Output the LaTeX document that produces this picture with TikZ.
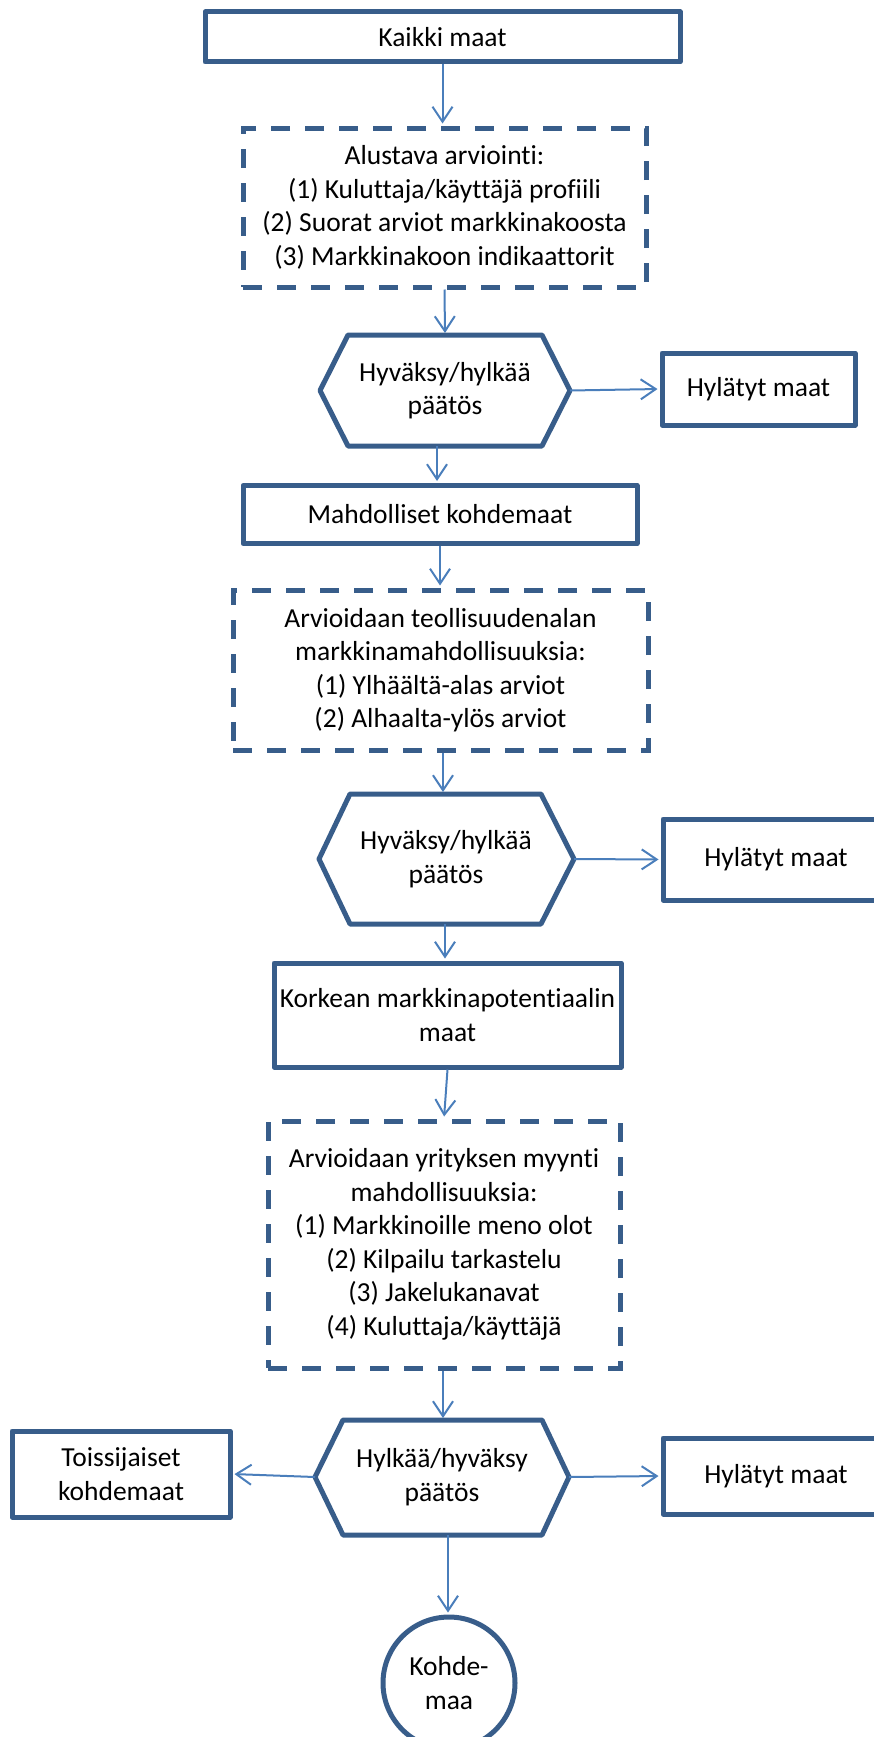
\documentclass[tikz,border=0pt]{standalone}
\usepackage{fontspec}
\setmainfont{Carlito}[Ligatures={NoCommon,NoRequired,NoContextual}]
\usetikzlibrary{arrows.meta}
\definecolor{boxblue}{HTML}{385D8A}
\definecolor{arrowblue}{HTML}{4A7EBB}
\begin{document}
\begin{tikzpicture}[x=1pt,y=-1pt,
  every node/.style={font=\fontsize{27.5}{33.5}\selectfont, align=center, inner sep=0pt},
  solidbox/.style={draw=boxblue, line width=5pt, line join=round, rectangle, fill=white},
  dashbox/.style={draw=boxblue, line width=5pt, dash pattern=on 19pt off 15pt, rectangle},
  hexline/.style={draw=boxblue, line width=5pt, line join=round},
  conn/.style={draw=arrowblue, line width=2pt, -{Straight Barb[length=15pt,width=20pt,line width=2pt]}, shorten >=2pt}
]
\useasboundingbox (0,0) rectangle (874,1737);
\clip (0,0) rectangle (874,1737);

% boxes
\node[solidbox, minimum width=475, minimum height=50] (kaikki) at (442.5,37) {Kaikki maat};
\node[dashbox, minimum width=403, minimum height=159] (d1) at (444.5,207.5)
  {Alustava arviointi:\\(1) Kuluttaja/käyttäjä profiili\\(2) Suorat arviot markkinakoosta\\(3) Markkinakoon indikaattorit};

% hexagon 1
\draw[hexline] (320,390.5) -- (348,335) -- (542,335) -- (570,390.5) -- (542,446) -- (348,446) -- cycle;
\node (h1) at (445,390.5) {Hyväksy/hylkää\\päätös};
\coordinate (h1N) at (445,335);
\coordinate (h1S) at (437,446);
\coordinate (h1E) at (570,390.5);

\node[solidbox, minimum width=193, minimum height=72] (hyl1) at (758.5,389) {Hylätyt maat};
\node[solidbox, minimum width=394, minimum height=58] (mahd) at (440,514.5) {Mahdolliset kohdemaat};
\node[dashbox, minimum width=415, minimum height=160] (d2) at (440.5,670)
  {Arvioidaan teollisuudenalan\\markkinamahdollisuuksia:\\(1) Ylhäältä-alas arviot\\(2) Alhaalta-ylös arviot};

% hexagon 2
\draw[hexline] (319,859) -- (350,794) -- (541,794) -- (574,859) -- (541,924) -- (350,924) -- cycle;
\node (h2) at (446,859) {Hyväksy/hylkää\\päätös};
\coordinate (h2N) at (443,794);
\coordinate (h2S) at (445,924);
\coordinate (h2E) at (574,859);

\node[solidbox, minimum width=226, minimum height=81] (hyl2) at (776,859.5) {Hylätyt maat};
\node[solidbox, minimum width=347, minimum height=104] (kork) at (447.5,1015) {Korkean markkinapotentiaalin\\maat};
\node[dashbox, minimum width=352, minimum height=247] (d3) at (444,1244.5)
  {Arvioidaan yrityksen myynti\\mahdollisuuksia:\\(1) Markkinoille meno olot\\(2) Kilpailu tarkastelu\\(3) Jakelukanavat\\(4) Kuluttaja/käyttäjä};

% hexagon 3
\draw[hexline] (315,1477) -- (343,1420) -- (542,1420) -- (569,1477) -- (542,1535) -- (343,1535) -- cycle;
\node (h3) at (442,1477) {Hylkää/hyväksy\\päätös};
\coordinate (h3N) at (443,1420);
\coordinate (h3S) at (448,1535);
\coordinate (h3E) at (569,1477);
\coordinate (h3W) at (315,1477);

\node[solidbox, minimum width=218, minimum height=86] (tois) at (121,1474) {Toissijaiset\\kohdemaat};
\node[solidbox, minimum width=226, minimum height=76] (hyl3) at (776,1476) {Hylätyt maat};
\node[draw=boxblue, line width=5pt, circle, minimum size=132] (kohde) at (449,1683) {Kohde-\\maa};

% connectors
\draw[conn] (kaikki.south) -- (d1.north -| kaikki.south);
\draw[conn] (d1.south) -- (h1N);
\draw[conn] (h1E) -- (hyl1.west);
\draw[conn] (h1S) -- (h1S |- mahd.north);
\draw[conn] (mahd.south) -- (mahd.south |- d2.north);
\draw[conn] (d2.south -| h2N) -- (h2N);
\draw[conn] (h2E) -- (hyl2.west);
\draw[conn] (h2S) -- (h2S |- kork.north);
\draw[conn] (kork.south) -- (d3.north);
\draw[conn] (d3.south -| h3N) -- (h3N);
\draw[conn] (h3W) -- (tois.east);
\draw[conn] (h3E) -- (hyl3.west);
\draw[conn] (h3S) -- (h3S |- kohde.north);
\end{tikzpicture}
\end{document}
